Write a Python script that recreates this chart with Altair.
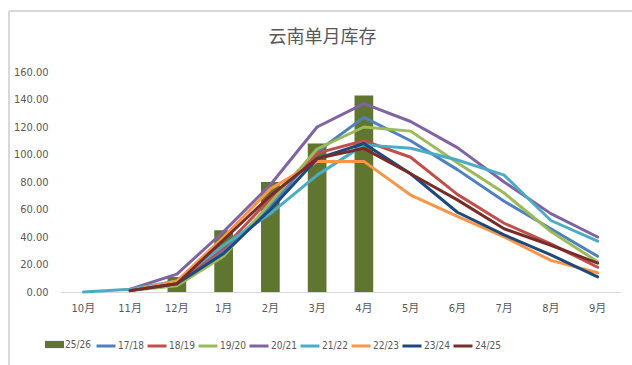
import altair as alt
import pandas as pd

months = ["10月", "11月", "12月", "1月", "2月", "3月", "4月", "5月", "6月", "7月", "8月", "9月"]

bar_name = "25/26"
bar_values = [None, None, 11, 45, 80, 108, 143, None, None, None, None, None]

line_names = ["17/18", "18/19", "19/20", "20/21", "21/22", "22/23", "23/24", "24/25"]
s_1718 = [None, 1.5, 7, 30, 62, 102, 127, 110, 89, 66, 46, 26]
s_1819 = [None, 1, 7, 32, 68, 101, 110, 98, 71, 50, 35, 18]
s_1920 = [None, 1, 4.5, 26, 65, 104, 120, 117, 94, 72, 44, 22]
s_2021 = [None, 2, 13, 44, 78, 120, 137, 124, 105, 80, 57, 40]
s_2122 = [0, 2, 8, 34, 57, 85, 107, 104.5, 96, 85, 52, 37]
s_2223 = [None, 1, 8, 40, 75, 95, 95, 70.5, 55, 40, 23, 14]
s_2324 = [None, 1, 6, 28, 60, 97, 108, 86, 58, 41.5, 27, 11]
s_2425 = [None, 1, 6, 38, 70, 97, 104.5, 86, 67, 46, 34, 21]
line_series = [s_1718, s_1819, s_1920, s_2021, s_2122, s_2223, s_2324, s_2425]

bar_color = "#5F7530"
line_colors = ["#4F81BD", "#C0504D", "#9BBB59", "#8064A2", "#4BACC6", "#F79646", "#1F497D", "#772C2A"]

y_ticks = [0, 20, 40, 60, 80, 100, 120, 140, 160]

bar_df = pd.DataFrame([
    {"month": m, "value": v, "series": bar_name}
    for m, v in zip(months, bar_values) if v is not None
])
rows = []
for name, vals in zip(line_names, line_series):
    for i, (m, v) in enumerate(zip(months, vals)):
        if v is not None:
            rows.append({"month": m, "value": v, "series": name, "idx": i})
line_df = pd.DataFrame(rows)

LAT = "Liberation Sans Narrow, DejaVu Sans Condensed, Liberation Sans, Noto Sans CJK SC, sans-serif"
GRAY = "#595959"

x_enc = alt.X(
    "month:N", sort=months, title=None,
    scale=alt.Scale(domain=months, paddingInner=0.6, paddingOuter=0.3),
    axis=alt.Axis(labelAngle=0, ticks=False, domainColor="#D9D9D9", domainWidth=1,
                  labelFont=LAT, labelFontSize=11, labelColor=GRAY, labelPadding=10),
)
y_enc = alt.Y(
    "value:Q", title=None,
    scale=alt.Scale(domain=[0, 160], nice=False, zero=True),
    axis=alt.Axis(values=y_ticks, format=".2f", grid=False, domain=False, ticks=False,
                  labelFont=LAT, labelFontSize=11, labelColor=GRAY, labelPadding=12),
)

bars = alt.Chart(bar_df).mark_bar().encode(
    x=x_enc,
    y=y_enc,
    fill=alt.Fill("series:N", scale=alt.Scale(domain=[bar_name], range=[bar_color]),
                  legend=alt.Legend(title=None, orient="none", legendX=-15, legendY=263,
                                    direction="horizontal", padding=0,
                                    symbolType="M-1,-0.38H1V0.38H-1Z", symbolSize=361,
                                    symbolStrokeWidth=0, symbolOpacity=1,
                                    labelFont=LAT, labelFontSize=10, labelColor=GRAY,
                                    labelOffset=1)),
)

lines = alt.Chart(line_df).mark_line(strokeWidth=3, strokeJoin="round", strokeCap="round").encode(
    x=x_enc,
    y=y_enc,
    stroke=alt.Stroke("series:N", scale=alt.Scale(domain=line_names, range=line_colors),
                      legend=alt.Legend(title=None, orient="none", legendX=35, legendY=263,
                                        direction="horizontal", padding=0, columns=8,
                                        symbolType="stroke", symbolSize=361,
                                        symbolStrokeWidth=3, columnPadding=-3,
                                        labelFont=LAT, labelFontSize=10, labelColor=GRAY,
                                        labelOffset=1)),
    order=alt.Order("idx:Q"),
)

frame_left = alt.Chart(bar_df).mark_rule(color="#D9D9D9", strokeWidth=1.5).encode(
    x=alt.value(-51), y=alt.value(-61), y2=alt.value(300)
)
frame_top = alt.Chart(bar_df).mark_rule(color="#D9D9D9", strokeWidth=1.5).encode(
    x=alt.value(-51), x2=alt.value(580), y=alt.value(-61)
)

chart = alt.layer(frame_left, frame_top, bars, lines).properties(
    width=561, height=220,
    autosize=alt.AutoSizeParams(type="none"),
    padding={"left": 60, "top": 72, "right": 11, "bottom": 73},
    title=alt.TitleParams("云南单月库存", font="Noto Sans CJK SC", fontSize=18,
                          fontWeight="normal", color=GRAY, anchor="middle", frame="group",
                          offset=-55, dx=-18, baseline="bottom"),
).configure(background="white").configure_view(stroke=None)

chart.save("out.html", embed_options={"renderer": "svg", "actions": False})
